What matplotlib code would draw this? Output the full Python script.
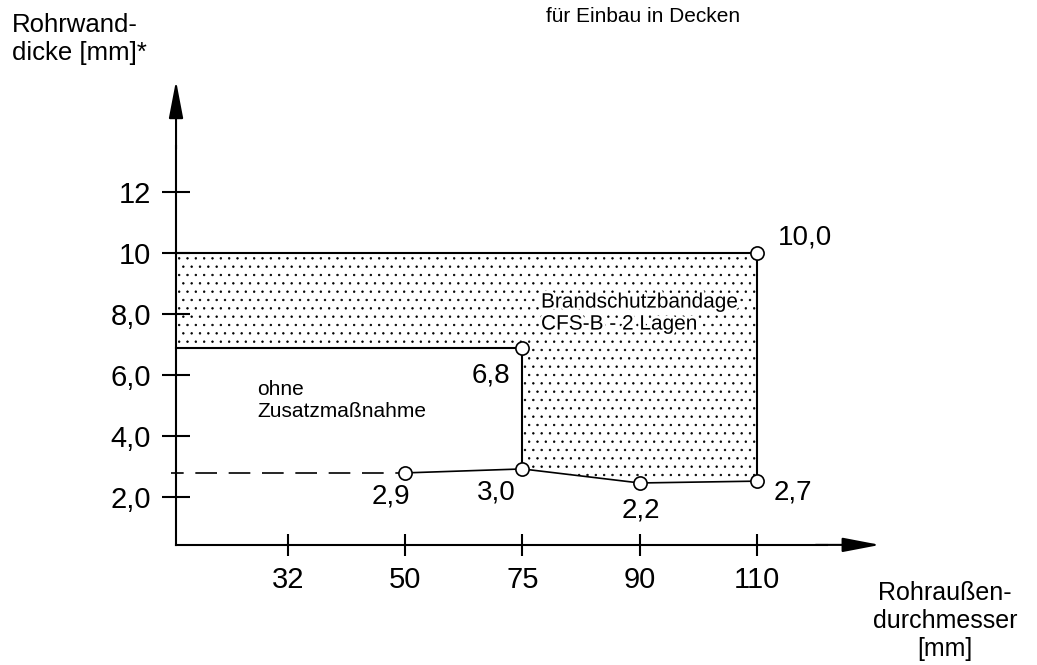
import matplotlib.pyplot as plt
import matplotlib.patheffects as pe
from matplotlib.patches import Polygon

plt.rcParams['font.family'] = ['Liberation Sans', 'DejaVu Sans']
plt.rcParams['hatch.linewidth'] = 0.5

# Kategorien (Rohraußendurchmesser) und y-Teilung
durchmesser = ['32', '50', '75', '90', '110']
x_pos = [1, 2, 3, 4, 5]
y_ticks = [2, 4, 6, 8, 10, 12]
y_ticklabels = ['2,0', '4,0', '6,0', '8,0', '10', '12']

# untere Grenzlinie (wie gezeichnet) + Beschriftung
x_unten = [2, 3, 4, 5]
y_unten = [2.79, 2.92, 2.46, 2.52]
lbl_unten = ['2,9', '3,0', '2,2', '2,7']

# obere Grenzen der Bandage
y_oben = 10.0
y_mitte = 6.9
lbl_oben = '10,0'
lbl_mitte = '6,8'

x0, y0 = 0.045, 0.43  # Achsenursprung

fig = plt.figure(figsize=(10.37, 6.65), dpi=100)
ax = fig.add_axes([170.75 / 1037, 107 / 665, 762.1 / 1037, 488 / 665])
ax.set_xlim(0, 6.5)
ax.set_ylim(0, 16)

for s in ['top', 'right']:
    ax.spines[s].set_visible(False)
ax.spines['left'].set_position(('data', x0))
ax.spines['bottom'].set_position(('data', y0))
ax.spines['left'].set_bounds(y0, 13.5)
ax.spines['bottom'].set_bounds(x0, 5.6)
ax.spines['left'].set_linewidth(1.5)
ax.spines['bottom'].set_linewidth(1.5)

ax.set_xticks(x_pos)
ax.set_xticklabels(durchmesser)
ax.set_yticks(y_ticks)
ax.set_yticklabels(y_ticklabels)
ax.tick_params(axis='y', direction='inout', length=20, width=1.5, labelsize=21, pad=8)
ax.tick_params(axis='x', direction='inout', length=16, width=1.5, labelsize=21, pad=7)

# Pfeilspitzen
ap = dict(arrowstyle='-|>,head_length=1.15,head_width=0.22', color='black',
          lw=1.5, mutation_scale=20, shrinkA=0, shrinkB=0)
ax.annotate('', xy=(x0, 15.65), xytext=(x0, 13.4), arrowprops=ap)
ax.annotate('', xy=(6.05, y0), xytext=(5.5, y0), arrowprops=ap)

# gepunktete Fläche Brandschutzbandage
poly = [(x0, y_oben), (x_unten[-1], y_oben)] + list(zip(x_unten[::-1], y_unten[::-1]))[:-1] \
       + [(x_unten[1], y_mitte), (x0, y_mitte)]
ax.add_patch(Polygon(poly, closed=True, facecolor='none', edgecolor='black',
                     lw=0, hatch='..'))

# Umrisslinien
ax.plot([x0, x_unten[-1]], [y_oben, y_oben], color='black', lw=1.5)
ax.plot([x0, x_unten[1]], [y_mitte, y_mitte], color='black', lw=1.5)
ax.plot([x_unten[1], x_unten[1]], [y_mitte, y_unten[1]], color='black', lw=1.5)
ax.plot([x_unten[-1], x_unten[-1]], [y_oben, y_unten[-1]], color='black', lw=1.5)
ax.plot(x_unten, y_unten, color='black', lw=1.2)
ax.plot([x0 - 0.12, x_unten[0]], [y_unten[0], y_unten[0]], color='black', lw=1.2,
        dashes=(13, 7))

# Messpunkte
mk = dict(marker='o', ms=9.5, mfc='white', mec='black', mew=1.2, ls='none')
ax.plot(x_unten, y_unten, **mk)
ax.plot([x_unten[1], x_unten[-1]], [y_mitte, y_oben], **mk)

# Wertebeschriftungen
fs = 20
ax.annotate(lbl_oben, (x_unten[-1], y_oben), xytext=(15, 11), textcoords='offset points',
            ha='left', va='center', fontsize=fs)
ax.annotate(lbl_mitte, (x_unten[1], y_mitte), xytext=(-9, -20), textcoords='offset points',
            ha='right', va='center', fontsize=fs)
offs = [(-10, -17), (-19, -17), (1, -20), (12, -8)]
has = ['center', 'center', 'center', 'left']
for xv, yv, t, o, h in zip(x_unten, y_unten, lbl_unten, offs, has):
    ax.annotate(t, (xv, yv), xytext=o, textcoords='offset points',
                ha=h, va='center', fontsize=fs)

frei = [pe.withStroke(linewidth=4, foreground='white')]
ax.text(3.158, 8.03, 'Brandschutzbandage\nCFS-B - 2 Lagen', ha='left', va='center',
        fontsize=15, linespacing=1.2, path_effects=frei)
ax.text(0.736, 5.15, 'ohne\nZusatzmaßnahme', ha='left', va='center',
        fontsize=15, linespacing=1.2)

fig.text(12 / 1037, 1 - 13 / 665, 'Rohrwand-\ndicke [mm]*', ha='left', va='top',
         fontsize=18.5, linespacing=1.2)
fig.text(945 / 1037, 1 - 621 / 665, 'Rohraußen-\ndurchmesser\n[mm]', ha='center',
         va='center', fontsize=18, linespacing=1.2, multialignment='center')
fig.text(643 / 1037, 1 - 16 / 665, 'für Einbau in Decken', ha='center', va='center',
         fontsize=15)

fig.savefig('out.png', dpi=100)
